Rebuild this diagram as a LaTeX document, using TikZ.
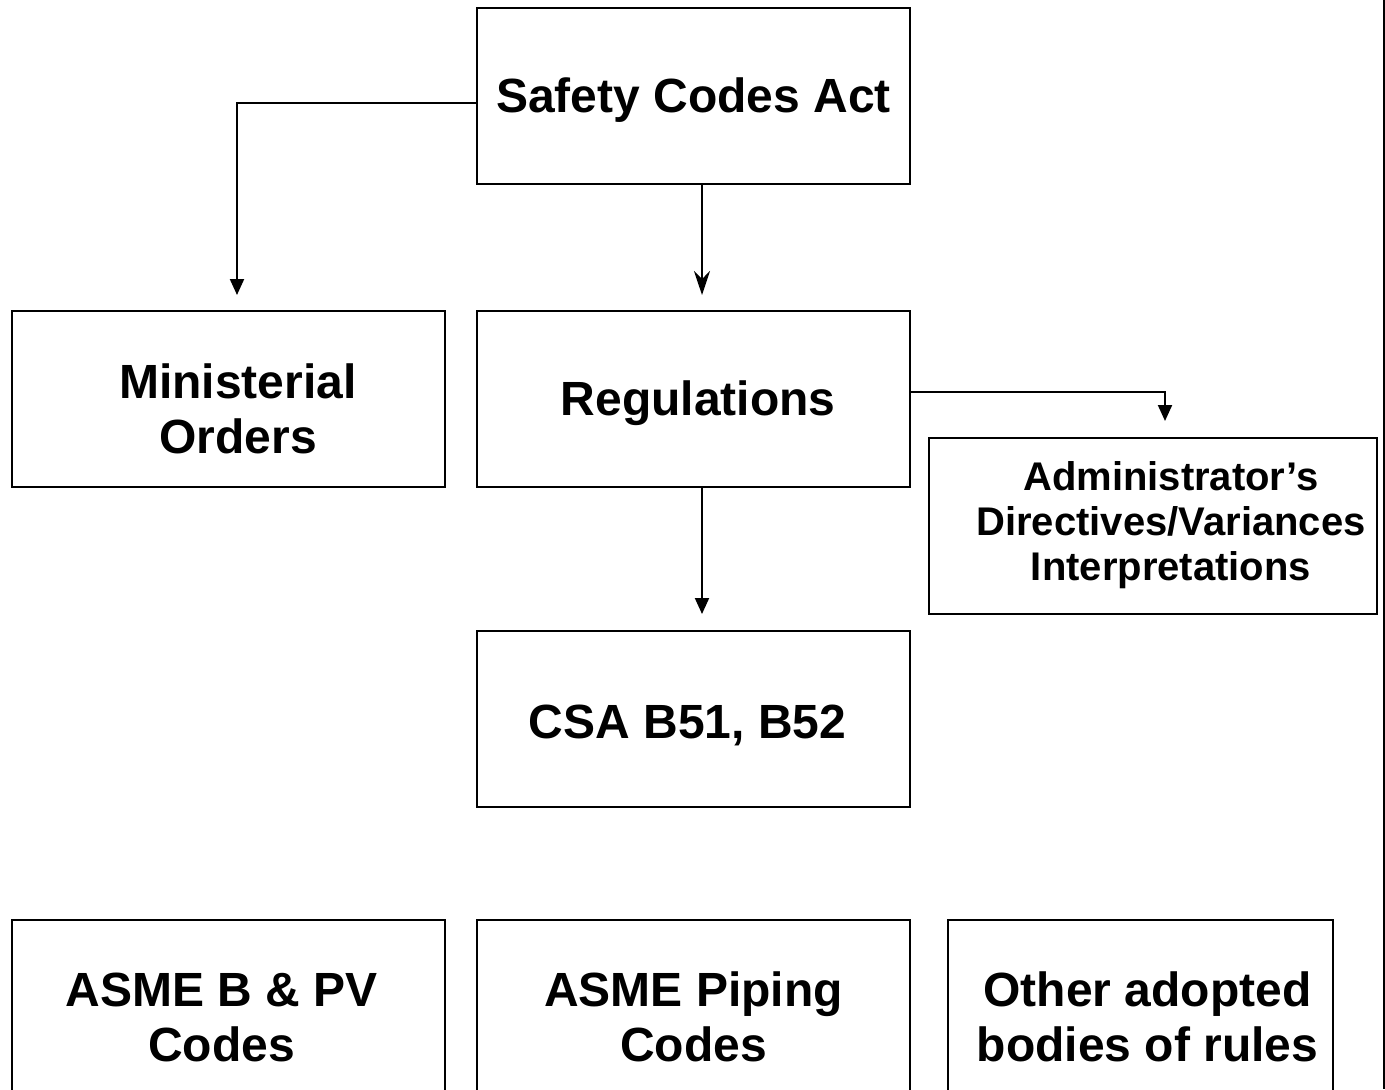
\documentclass[tikz,border=0pt]{standalone}
\usepackage{fontspec}
\setmainfont{Liberation Sans}
\usetikzlibrary{arrows.meta}

\tikzset{
  box/.style={draw, line width=1pt, minimum width=216.5pt, minimum height=88pt, inner sep=0pt},
  big/.style={inner sep=0pt, align=center, font=\fontsize{24}{27.5}\selectfont\bfseries},
  note/.style={inner sep=0pt, align=center, font=\fontsize{20}{22.5}\selectfont\bfseries},
  link/.style={line width=1pt, -{Triangle[length=8pt,width=7pt]}, shorten >=7.5pt}
}

\begin{document}
\begin{tikzpicture}[x=0.5pt,y=-0.5pt]
		% Page frame
		\clip (0,0) rectangle (1385,1089);
		\fill[white] (0,0) rectangle (1385,1089);

		% Act and what hangs off it
		\node[box] (act) at (693.5,95.5) {};
		\node[big] (acttxt) at (693.5,100.5) {Safety Codes Act};
		\node[box] (orders) at (228.5,399) {};
		\node[big] (orderstxt) at (238,409) {Ministerial\\Orders};
		\node[box] (regs) at (693.5,399) {};
		\node[big] (regstxt) at (698,403) {Regulations};
		\node[box, minimum width=224pt] (admin) at (1153,526) {};
		\node[note] (admintxt) at (1171,525.5) {Administrator’s\\Directives/Variances\\Interpretations};
		\node[box] (csa) at (693.5,719) {};
		\node[big] (csatxt) at (687.5,725) {CSA B51, B52};

		% Adopted codes (cut off at the bottom)
		\node[box] (bpv) at (228.5,1008) {};
		\node[big] (bpvtxt) at (221.5,1017) {ASME B \& PV\\Codes};
		\node[box] (piping) at (693.5,1008) {};
		\node[big] (pipingtxt) at (693.5,1017) {ASME Piping\\Codes};
		\node[box, minimum width=192.5pt] (other) at (1140.5,1008) {};
		\node[big] (othertxt) at (1147.5,1017) {Other adopted\\bodies of rules};

		% Connectors
		\draw[link] ([yshift=-3.75pt]act.west) -| ([xshift=4.25pt]orders.north);
		\draw[link, -{Stealth[length=12pt,width=8pt,inset=4pt]}] ([xshift=4.25pt]act.south) -- ([xshift=4.25pt]regs.north);
		\draw[link, shorten >=8pt] ([yshift=3.5pt]regs.east) -| ([xshift=6pt]admin.north);
		\draw[link, shorten >=8pt] ([xshift=4.25pt]regs.south) -- ([xshift=4.25pt]csa.north);

		% Right edge rule
		\draw[line width=1.5pt] (1384,0) -- (1384,1089);
	\end{tikzpicture}
\end{document}
